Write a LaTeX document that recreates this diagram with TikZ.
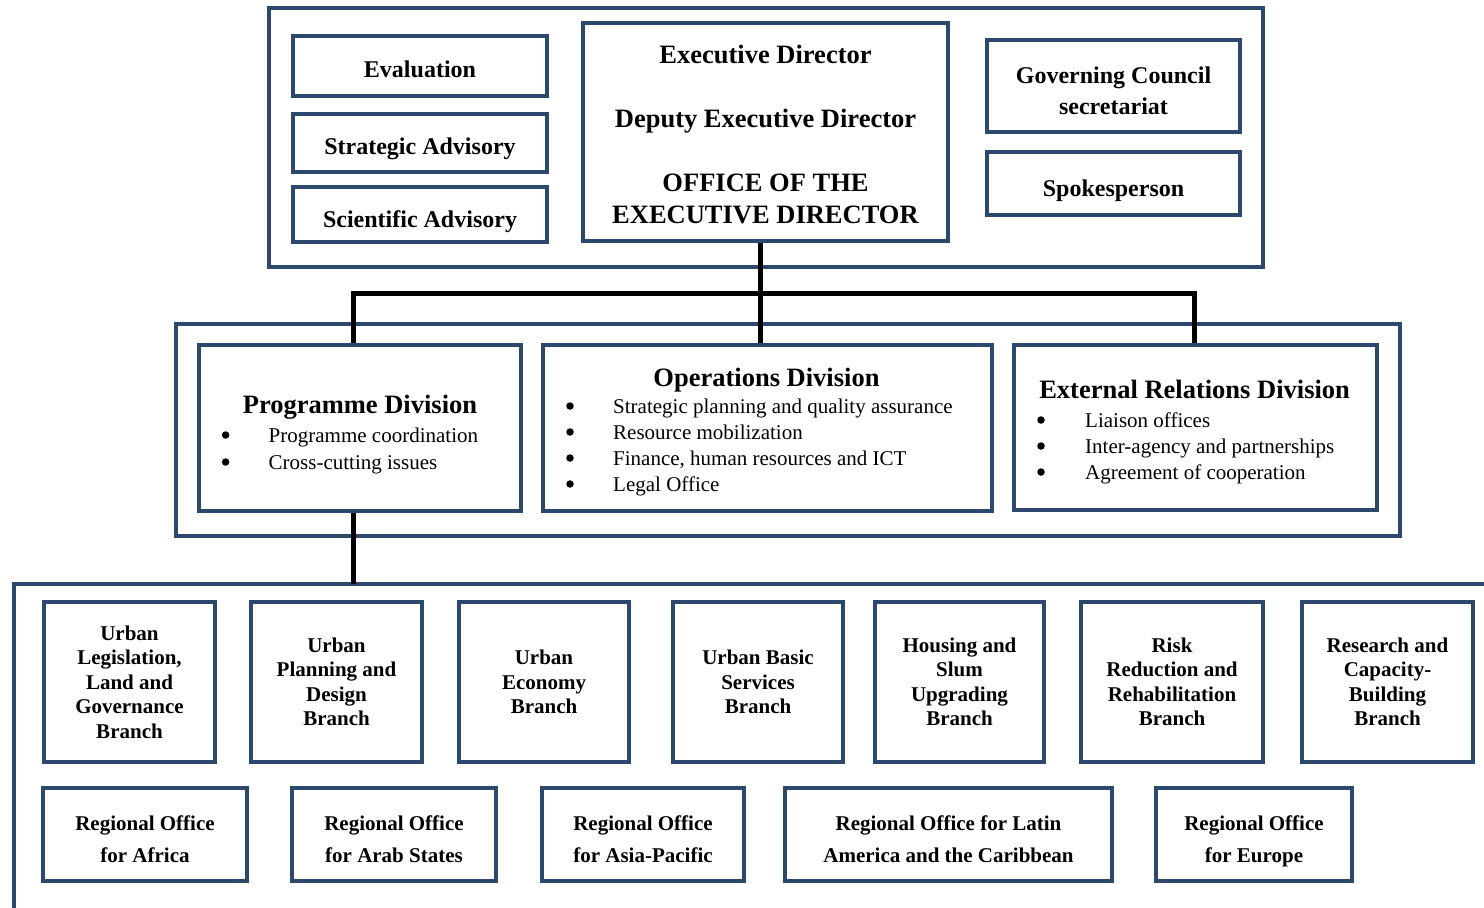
\documentclass[tikz,border=0pt]{standalone}
\usepackage{fontspec}
\setmainfont{Liberation Serif}
\definecolor{ublue}{RGB}{44,72,108}
\begin{document}
\begin{tikzpicture}[x=1pt,y=-1pt,
  frame/.style={draw=ublue,line width=4.5pt},
  box/.style={draw=ublue,line width=4.5pt,inner sep=0pt,align=center,fill=white},
  conn/.style={draw=black,line width=5pt},
  tl/.style={inner sep=0pt,anchor=base,font=\bfseries\fontsize{24}{28}\selectfont},
  big/.style={inner sep=0pt,anchor=base,font=\bfseries\fontsize{26.5}{30}\selectfont},
  dot/.style={circle,fill=black,inner sep=0pt,minimum size=7.5pt},
  itm/.style={inner sep=0pt,anchor=base west,font=\fontsize{21}{25}\selectfont},
  br/.style={box,font=\bfseries\fontsize{21}{24.5}\selectfont,minimum height=160pt},
  rg/.style={box,minimum height=93pt},
  rgt/.style={inner sep=0pt,align=center,font=\bfseries\fontsize{21}{32}\selectfont}]
\useasboundingbox (0,0) rectangle (1484,908);
\clip (0,0) rectangle (1484,908);

% outer frames
\draw[frame] (269,8) rectangle (1263,267);
\draw[frame] (176,324) rectangle (1400,536);
\draw[frame] (14,930) -- (14,584) -- (1500,584);

% top boxes
\node[box,minimum width=254pt,minimum height=60pt] (eval) at (420,66) {};
\node[tl] (evalt) at (420,77) {Evaluation};
\node[box,minimum width=254pt,minimum height=58pt] (strat) at (420,143) {};
\node[tl] (stratt) at (420,154) {Strategic Advisory};
\node[box,minimum width=254pt,minimum height=55pt] (sci) at (420,214.5) {};
\node[tl] (scit) at (420,227) {Scientific Advisory};

\node[box,minimum width=365pt,minimum height=218pt] (exec) at (765.5,132) {};
\node[big] (e1) at (765.5,63) {Executive Director};
\node[big] (e2) at (765.5,127) {Deputy Executive Director};
\node[big] (e3) at (765.5,191) {OFFICE OF THE};
\node[big] (e4) at (765.5,223) {EXECUTIVE DIRECTOR};

\node[box,minimum width=253pt,minimum height=92pt] (gov) at (1113.5,86) {};
\node[tl] (gov1) at (1113.5,83) {Governing Council};
\node[tl] (gov2) at (1113.5,114) {secretariat};
\node[box,minimum width=253pt,minimum height=63pt] (spk) at (1113.5,183.5) {};
\node[tl] (spkt) at (1113.5,196) {Spokesperson};

% connectors
\coordinate (jm) at (760,293);
\coordinate (jl) at (353,293);
\coordinate (jr) at (1194,293);
\coordinate (bt) at (353,584);
\draw[conn] (exec.south -| jm) -- (760,345);
\draw[conn] (353,345) -- (jl) -- (jr) -- (1194,345);
\draw[conn] (353,511) -- (bt);

% divisions
\node[box,minimum width=322pt,minimum height=166pt] (prog) at (360,428) {};
\node[big] (progt) at (360,413) {Programme Division};
\foreach \t/\yy in {Programme coordination/442, Cross-cutting issues/469}{
  \node[dot] (pb\yy) at (225.6,\yy-7) {};
  \node[itm] (pi\yy) at (268.5,\yy) {\t};
}

\node[box,minimum width=449pt,minimum height=166pt] (ops) at (767.5,428) {};
\node[big] (opst) at (766.5,386) {Operations Division};
\foreach \t/\yy in {Strategic planning and quality assurance/413, Resource mobilization/439, {Finance, human resources and ICT}/465, Legal Office/491}{
  \node[dot] (ob\yy) at (570,\yy-7) {};
  \node[itm] (oi\yy) at (613,\yy) {\t};
}

\node[box,minimum width=363pt,minimum height=165pt] (ext) at (1195.5,427.5) {};
\node[big] (extt) at (1194.6,398) {External Relations Division};
\foreach \t/\yy in {Liaison offices/427, Inter-agency and partnerships/453, Agreement of cooperation/479}{
  \node[dot] (xb\yy) at (1041,\yy-7) {};
  \node[itm] (xi\yy) at (1085,\yy) {\t};
}

% branches
\node[br,minimum width=171pt] (b1) at (129.5,682) {Urban\\Legislation,\\Land and\\Governance\\Branch};
\node[br,minimum width=171pt] (b2) at (336.5,682) {Urban\\Planning and\\Design\\Branch};
\node[br,minimum width=170pt] (b3) at (544,682) {Urban\\Economy\\Branch};
\node[br,minimum width=170pt] (b4) at (758,682) {Urban Basic\\Services\\Branch};
\node[br,minimum width=169pt] (b5) at (959.5,682) {Housing and\\Slum\\Upgrading\\Branch};
\node[br,minimum width=182pt] (b6) at (1172,682) {Risk\\Reduction and\\Rehabilitation\\Branch};
\node[br,minimum width=171pt] (b7) at (1387.5,682) {Research and\\Capacity-\\Building\\Branch};

% regional offices
\node[rg,minimum width=204pt] (r1) at (145,834.5) {};
\node[rgt] (r1t) at (145,839) {Regional Office\\for Africa};
\node[rg,minimum width=204pt] (r2) at (394,834.5) {};
\node[rgt] (r2t) at (394,839) {Regional Office\\for Arab States};
\node[rg,minimum width=202pt] (r3) at (643,834.5) {};
\node[rgt] (r3t) at (643,839) {Regional Office\\for Asia-Pacific};
\node[rg,minimum width=327pt] (r4) at (948.5,834.5) {};
\node[rgt] (r4t) at (948.5,839) {Regional Office for Latin\\America and the Caribbean};
\node[rg,minimum width=196pt] (r5) at (1254,834.5) {};
\node[rgt] (r5t) at (1254,841) {Regional Office\\for Europe};
\end{tikzpicture}
\end{document}
